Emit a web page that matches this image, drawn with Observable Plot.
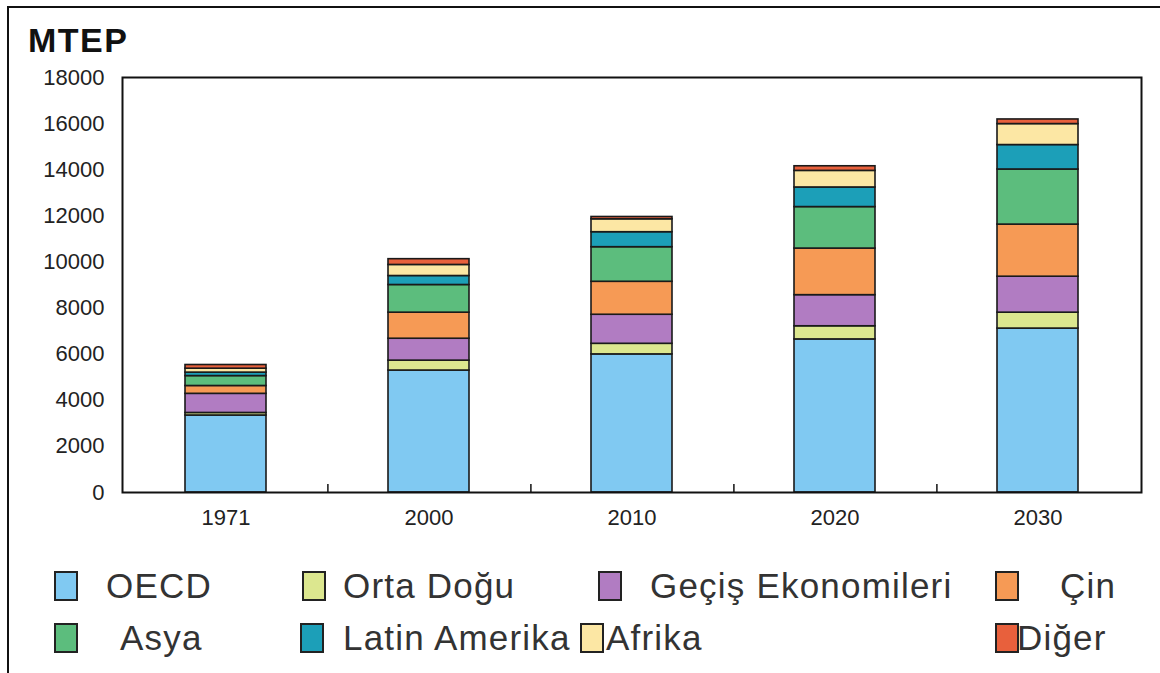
<!DOCTYPE html>
<html>
<head>
<meta charset="utf-8">
<script src="https://cdn.jsdelivr.net/npm/d3@7"></script>
<script src="https://cdn.jsdelivr.net/npm/@observablehq/plot@0.6"></script>
<style>
  html, body { margin: 0; padding: 0; background: #fff; }
  #page { position: relative; width: 1160px; height: 673px; overflow: hidden; background: #fff;
          font-family: "Liberation Sans", Arial, sans-serif; color: #222; }
  #border { position: absolute; left: 7px; top: 6px; width: 1170px; height: 700px;
            border-left: 2px solid #111; border-top: 2px solid #111; }
  #title { position: absolute; left: 28px; top: 21px; font-size: 34px; font-weight: bold;
           letter-spacing: 1.5px; color: #111; }
  #chart { position: absolute; left: 0; top: 0; }
  #chart svg { overflow: visible; }
  .leg { position: absolute; height: 30px; }
  .sw { position: absolute; width: 20px; height: 26px; border: 2px solid #222; top: 0; }
  .lt { position: absolute; top: -5px; font-size: 35px; color: #333; white-space: nowrap; letter-spacing: 1.2px; }
</style>
</head>
<body>
<div id="page">
  <div id="border"></div>
  <div id="chart"></div>
  <div id="title">MTEP</div>
  <div id="legend"></div>
</div>
<script>
// ---- data ----
const years = ["1971", "2000", "2010", "2020", "2030"];
const regions = ["OECD", "Orta Doğu", "Geçiş Ekonomileri", "Çin", "Asya", "Latin Amerika", "Afrika", "Diğer"];
const regionColors = ["#80c9f2", "#dce78f", "#b17cc2", "#f69a55", "#5cbd7d", "#1c9fb8", "#fce7a4", "#e8603c"];
const oecd        = [3340, 5290, 5990, 6640, 7110];
const ortaDogu    = [110, 430, 460, 570, 690];
const gecis       = [830, 950, 1260, 1350, 1560];
const cin         = [340, 1130, 1430, 2020, 2260];
const asya        = [430, 1200, 1500, 1800, 2390];
const latinAmerika= [150, 390, 650, 850, 1060];
const afrika      = [170, 480, 560, 720, 910];
const diger       = [160, 250, 100, 200, 200];
const yTicks = [0, 2000, 4000, 6000, 8000, 10000, 12000, 14000, 16000, 18000];

// ---- layout ----
const W = 1160, H = 540, mL = 122, mR = 19, mT = 77, mB = 48;
const step = (W - mL - mR) / years.length;

const series = [oecd, ortaDogu, gecis, cin, asya, latinAmerika, afrika, diger];
const table = [];
regions.forEach((r, i) => years.forEach((y, j) => table.push({year: y, region: r, value: series[i][j]})));

const chart = Plot.plot({
  width: W, height: H,
  marginLeft: mL, marginRight: mR, marginTop: mT, marginBottom: mB,
  style: {fontFamily: "'Liberation Sans', Arial, sans-serif", color: "#222", background: "transparent"},
  x: {domain: years, paddingInner: 0.6, paddingOuter: 0.3, label: null},
  y: {domain: [0, 18000], label: null},
  color: {domain: regions, range: regionColors},
  marks: [
    Plot.barY(table, {x: "year", y: "value", fill: "region", order: regions, stroke: "#1a1a1a", strokeWidth: 1.6}),
    Plot.ruleX(years.slice(0, -1), {x: d => d, y1: 0, y2: 350, dx: step / 2, stroke: "#111", strokeWidth: 1.5}),
    Plot.frame({stroke: "#111", strokeWidth: 2}),
    Plot.axisY({ticks: yTicks, tickSize: 0, tickPadding: 18, fontSize: 22, label: null, tickFormat: d => String(d)}),
    Plot.axisX({tickSize: 0, tickPadding: 17, fontSize: 22, label: null})
  ]
});
document.getElementById("chart").appendChild(chart);

// ---- legend (HTML) ----
const legendPos = [
  {sx: 54, tx: 106, y: 571}, {sx: 302, tx: 343, y: 571}, {sx: 598, tx: 650, y: 571}, {sx: 995, tx: 1060, y: 571},
  {sx: 54, tx: 120, y: 623}, {sx: 300, tx: 343, y: 623}, {sx: 580, tx: 606, y: 623}, {sx: 995, tx: 1017, y: 623}
];
const legendOrder = ["OECD", "Orta Doğu", "Geçiş Ekonomileri", "Çin", "Asya", "Latin Amerika", "Afrika", "Diğer"];
const leg = document.getElementById("legend");
legendOrder.forEach((r, i) => {
  const p = legendPos[i];
  const item = document.createElement("div");
  item.className = "leg";
  item.style.left = "0px"; item.style.top = p.y + "px";
  const sw = document.createElement("div");
  sw.className = "sw"; sw.style.left = p.sx + "px";
  sw.style.background = regionColors[regions.indexOf(r)];
  const t = document.createElement("div");
  t.className = "lt"; t.style.left = p.tx + "px"; t.textContent = r;
  item.appendChild(sw); item.appendChild(t);
  leg.appendChild(item);
});
</script>
</body>
</html>
